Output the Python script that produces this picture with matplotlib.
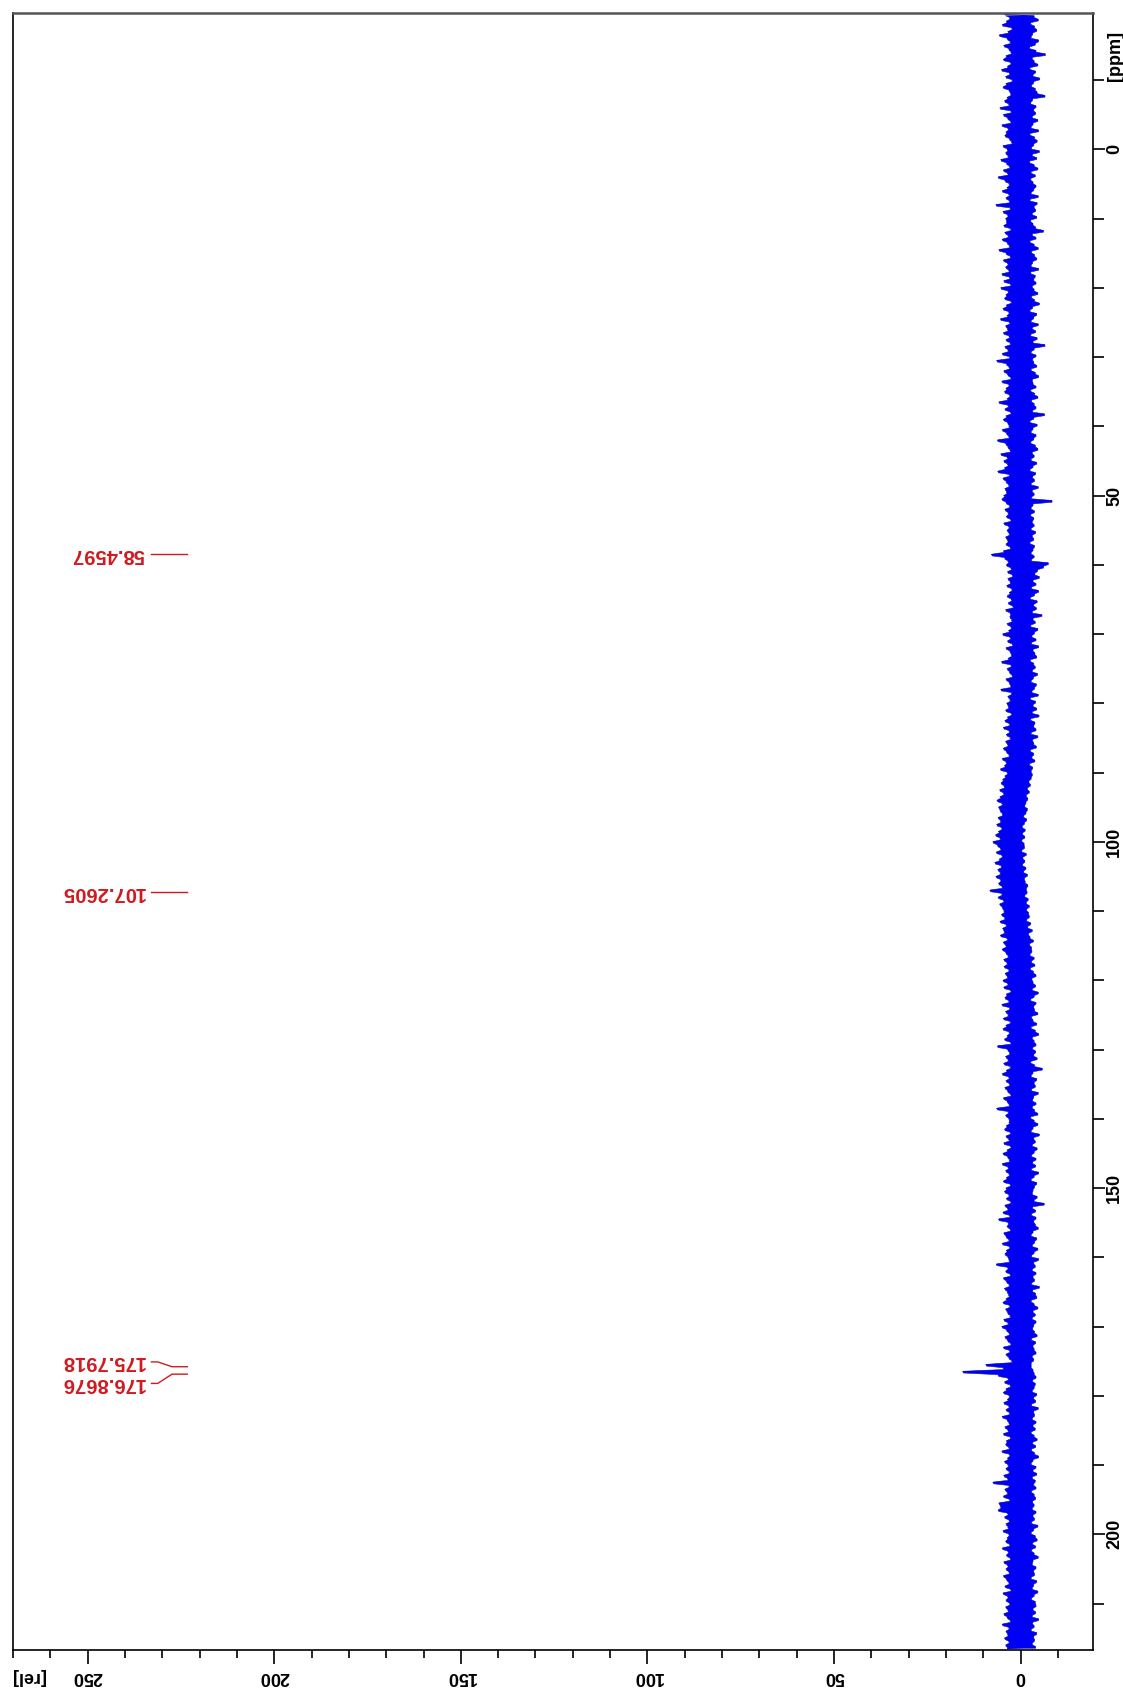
import numpy as np
import matplotlib.pyplot as plt
from matplotlib.ticker import MultipleLocator

# 13C spectrum drawn sideways: ppm runs down the right side, intensity runs leftwards
# one value every 0.25 ppm from ppm_start to ppm_stop, 20 values (5 ppm) per row
ppm_start, ppm_stop = -19.5, 216.5
intensity = [
    4.2, -3.5, 3.0, -4.6, 3.8, -2.6, 4.9, -3.6, 2.4, -4.2, 3.4, -3.1, 5.7, -2.7, 3.6, -4.7, 2.8, -3.8, 4.5, -2.3,
    3.2, -4.0, 2.6, -6.5, 3.9, -3.0, 4.6, -3.5, 2.7, -4.5, 3.5, -2.4, 5.1, -3.9, 3.0, -3.2, 4.0, -5.0, 2.3, -3.4,
    3.9, -2.8, 4.7, -3.8, 3.1, -4.3, 2.7, -6.4, 3.6, -3.1, 4.3, -2.6, 3.2, -4.0, 5.5, -3.4, 2.6, -3.9, 4.6, -3.0,
    3.5, -4.5, 2.7, -3.2, 5.0, -2.7, 3.4, -4.7, 3.9, -2.4, 4.2, -3.6, 3.0, -4.3, 2.4, -3.4, 4.7, -2.8, 3.6, -4.9,
    4.0, -3.0, 3.4, -4.2, 5.3, -2.3, 3.8, -3.5, 3.0, -4.5, 4.6, -2.7, 3.5, -3.8, 6.0, -2.6, 4.2, -3.2, 3.1, -4.0,
    3.6, -3.4, 4.9, -2.7, 3.2, -4.6, 3.9, -2.4, 3.0, -4.3, 6.6, -3.5, 2.8, -3.9, 4.7, -3.0, 3.5, -4.2, 4.0, -2.6,
    3.8, -3.2, 4.5, -3.9, 2.7, -6.0, 4.2, -3.0, 3.4, -4.0, 4.9, -2.4, 3.6, -3.5, 3.0, -4.6, 5.8, -2.8, 3.9, -3.6,
    2.8, -4.2, 4.6, -3.1, 3.5, -2.7, 4.0, -4.7, 3.2, -2.6, 5.0, -3.8, 3.0, -3.4, 4.5, -4.0, 2.7, -3.0, 5.3, -3.5,
    3.4, -4.5, 3.9, -2.8, 4.3, -3.6, 2.6, -4.9, 3.8, -3.1, 4.7, -2.4, 3.2, -4.2, 3.6, -3.4, 5.4, -2.7, 3.0, -4.6,
    4.0, -3.0, 3.5, -3.9, 4.6, -2.6, 3.1, -4.3, 3.9, -3.2, 2.8, -6.4, 4.2, -3.5, 3.4, -2.7, 4.9, -4.0, 3.0, -3.1,
    6.4, -3.4, 3.8, -4.2, 3.1, -2.7, 4.5, -3.8, 3.5, -4.7, 2.7, -3.0, 5.0, -3.2, 3.2, -4.0, 3.9, -2.6, 4.3, -3.6,
    3.0, -4.5, 3.6, -2.8, 5.8, -3.5, 3.4, -4.0, 4.2, -3.1, 2.7, -6.3, 3.9, -3.4, 4.6, -2.4, 3.5, -4.3, 3.1, -3.2,
    4.9, -2.7, 3.8, -4.0, 3.2, -3.4, 6.2, -2.6, 4.0, -3.8, 3.4, -4.5, 2.8, -3.0, 5.3, -3.5, 3.6, -2.7, 4.5, -4.2,
    3.5, -3.2, 4.3, -2.4, 6.1, -3.9, 3.1, -3.1, 4.7, -3.6, 3.9, -2.7, 3.2, -4.6, 4.2, -3.0, 3.8, -3.5, 4.5, -2.8,
    5.0, -8.3, 3.9, -3.2, 3.0, -2.7, 4.2, -3.6, 3.4, -2.6, 3.8, -3.4, 2.7, -3.0, 4.5, -3.5, 3.2, -2.7, 3.6, -3.9,
    3.1, -3.0, 4.0, -3.4, 3.5, -2.4, 3.9, -3.6, 2.8, -3.2, 4.6, -2.7, 7.8, -3.5, 4.3, -2.8, 3.4, -7.3, 3.8, -6.0,
    2.6, -4.4, 3.5, -3.7, 2.2, -4.9, 3.4, -3.2, 2.8, -4.0, 3.7, -2.8, 2.4, -4.7, 3.0, -3.6, 3.6, -2.5, 2.5, -4.3,
    3.3, -3.4, 2.1, -4.1, 4.0, -3.0, 2.8, -5.6, 2.9, -3.2, 2.4, -3.8, 3.6, -2.6, 2.6, -4.5, 3.2, -3.6, 4.8, -2.9,
    2.8, -4.0, 3.5, -2.8, 2.2, -4.7, 3.9, -3.2, 2.9, -3.7, 2.5, -4.2, 3.3, -2.5, 5.1, -3.4, 2.6, -3.8, 3.6, -3.0,
    3.0, -4.4, 2.3, -3.3, 3.9, -2.7, 3.1, -4.1, 2.7, -3.6, 5.3, -2.9, 2.5, -4.6, 3.4, -2.5, 2.9, -3.9, 3.7, -3.2,
    3.3, -4.2, 4.0, -3.0, 2.5, -4.8, 3.5, -2.6, 4.2, -3.7, 3.0, -3.4, 4.6, -4.0, 3.1, -2.7, 3.8, -4.5, 2.8, -3.1,
    4.0, -3.4, 3.5, -4.1, 4.6, -2.5, 3.8, -3.4, 3.1, -2.9, 4.9, -3.7, 3.9, -2.3, 4.3, -3.1, 5.4, -2.7, 3.6, -3.0,
    4.2, -2.7, 4.8, -2.1, 5.2, -2.5, 4.4, -1.7, 5.6, -2.2, 4.6, -1.4, 5.5, -1.8, 6.3, -1.3, 5.0, -1.0, 5.9, -1.7,
    5.5, -1.3, 4.9, -0.7, 6.0, -1.5, 5.4, -0.9, 6.4, -0.3, 5.1, -1.1, 5.9, -0.4, 6.7, -1.0, 5.5, -0.2, 7.4, -0.8,
    6.2, -0.9, 5.4, -0.2, 6.5, -1.4, 5.0, -0.5, 5.7, -1.0, 6.9, -0.4, 5.2, -1.3, 6.1, -0.7, 5.5, -1.7, 6.6, -0.9,
    5.4, -1.1, 5.9, -1.8, 5.0, -1.4, 8.2, -1.6, 5.1, -1.0, 6.0, -1.9, 4.6, -1.4, 5.6, -2.2, 4.9, -1.5, 4.5, -2.0,
    5.1, -2.2, 4.3, -1.5, 5.5, -2.6, 3.9, -1.8, 4.8, -3.0, 4.4, -2.0, 5.4, -2.4, 3.6, -3.3, 4.6, -2.3, 4.0, -2.8,
    4.9, -2.9, 4.0, -2.4, 3.4, -3.5, 4.5, -2.8, 3.7, -3.7, 4.4, -2.5, 3.2, -3.3, 4.1, -4.0, 3.6, -2.9, 4.7, -3.2,
    3.5, -3.9, 4.5, -3.0, 2.7, -4.6, 3.8, -3.5, 4.2, -2.6, 3.2, -4.0, 5.0, -3.4, 3.0, -3.6, 4.0, -4.5, 3.4, -2.8,
    4.6, -3.2, 2.8, -4.2, 3.9, -2.7, 4.7, -3.8, 3.1, -4.7, 3.6, -3.0, 4.3, -3.5, 2.7, -4.0, 6.2, -3.1, 3.5, -3.9,
    3.0, -3.4, 4.0, -4.3, 3.4, -2.6, 4.5, -3.6, 2.8, -5.7, 3.8, -3.2, 4.9, -2.7, 3.2, -4.2, 3.9, -3.5, 3.0, -3.8,
    4.2, -2.8, 3.5, -4.6, 2.7, -3.4, 4.6, -3.1, 3.6, -4.0, 3.1, -3.0, 6.4, -3.6, 3.4, -4.5, 4.0, -2.6, 3.2, -3.5,
    3.1, -4.5, 3.8, -3.2, 4.3, -2.7, 2.8, -4.9, 3.9, -3.4, 3.2, -3.8, 4.5, -3.0, 2.7, -4.3, 3.6, -3.5, 4.7, -2.8,
    3.5, -4.0, 3.0, -3.1, 4.9, -3.9, 3.4, -2.8, 4.0, -4.7, 3.1, -3.5, 3.8, -2.7, 4.6, -4.2, 2.8, -3.6, 3.9, -3.2,
    4.3, -3.0, 3.2, -4.3, 3.8, -3.5, 2.7, -6.2, 4.2, -3.1, 3.5, -3.9, 4.7, -2.8, 3.0, -4.0, 5.9, -3.4, 3.4, -3.8,
    3.6, -4.6, 2.8, -3.2, 4.5, -2.7, 3.9, -4.2, 3.2, -3.6, 4.9, -3.0, 3.0, -4.5, 3.8, -3.5, 4.2, -2.8, 3.4, -4.7,
    3.1, -3.4, 6.5, -3.8, 3.5, -3.0, 4.0, -4.0, 2.8, -3.2, 4.6, -3.6, 3.8, -2.8, 3.1, -4.9, 4.3, -3.1, 3.6, -3.9,
    3.2, -4.2, 3.9, -2.7, 4.7, -3.5, 3.0, -4.5, 4.0, -3.2, 3.5, -3.8, 2.8, -3.0, 4.5, -4.0, 3.4, -3.4, 5.0, -3.1,
    3.8, -3.6, 3.1, -4.3, 4.2, -2.8, 3.5, -3.9, 2.7, -3.2, 4.6, -3.5, 3.0, -4.0, 3.9, -3.0, 3.2, -3.4, 2.4, -2.7,
    9.3, -2.7, 4.7, -3.2, 15.5, -3.5, 6.0, -4.0, 3.4, -3.1, 4.3, -3.8, 2.8, -3.5, 3.9, -3.0, 4.6, -4.2, 3.1, -3.4,
    3.5, -3.9, 4.5, -2.8, 3.2, -4.6, 3.9, -3.4, 3.0, -3.6, 4.9, -3.0, 3.6, -4.0, 3.1, -3.2, 4.2, -3.8, 3.4, -2.7,
    4.6, -3.5, 2.8, -4.3, 3.8, -3.1, 4.0, -3.9, 3.2, -2.8, 5.0, -3.6, 3.0, -4.7, 3.5, -3.2, 4.3, -2.7, 3.4, -4.0,
    3.9, -3.2, 3.1, -4.2, 4.5, -3.0, 3.5, -3.8, 7.4, -3.4, 3.2, -4.0, 4.2, -2.8, 3.6, -3.5, 4.6, -3.9, 3.0, -3.1,
    5.8, -3.5, 5.4, -3.0, 6.0, -4.0, 3.5, -3.2, 4.3, -3.6, 3.1, -2.8, 3.9, -4.5, 3.4, -3.4, 4.7, -2.7, 3.2, -3.8,
    3.6, -4.3, 4.0, -3.1, 3.0, -3.9, 4.9, -2.8, 3.4, -3.5, 3.8, -4.6, 2.8, -3.2, 4.5, -3.0, 3.5, -4.0, 3.9, -3.4,
    3.1, -3.6, 4.6, -2.7, 3.8, -4.2, 3.2, -3.4, 4.2, -3.0, 2.7, -4.5, 4.7, -3.5, 3.5, -2.8, 3.9, -3.8, 3.0, -4.0,
    4.0, -3.2, 3.4, -3.9, 4.5, -3.0, 3.6, -4.7, 2.8, -3.1, 4.9, -3.5, 3.2, -2.7, 3.9, -4.2, 3.5, -3.4, 4.3, -3.6,
    3.2, -3.0, 4.0, -3.9, 3.5,
]

peaks = [58.4597, 107.2605, 175.7918, 176.8676]
label_ppm = [58.4597, 107.2605, 175.1, 178.2]

ppm_ticks = [0, 50, 100, 150, 200]
rel_ticks = [0, 50, 100, 150, 200, 250]

red = '#d2191e'
blue = '#0000f5'
font = 'Liberation Sans'

v = np.array(intensity)
ppm = np.linspace(ppm_start, ppm_stop, len(v))

fig = plt.figure(figsize=(11.23, 16.96), dpi=100)
ax = fig.add_axes([13 / 1123, 1 - 1650 / 1696, 1080 / 1123, 1637 / 1696])

# dense trace: fill between neighbouring points so the noise band reads solid
mid = (ppm[:-1] + ppm[1:]) / 2
ax.fill_betweenx(mid, np.minimum(v[:-1], v[1:]), np.maximum(v[:-1], v[1:]),
                 color=blue, edgecolor='#1a1a90', linewidth=0.4)
ax.plot(v, ppm, color=blue, lw=0.7)

# peak labels (upside down like the original print)
for p, lp in zip(peaks, label_ppm):
    ax.plot([232.9, 231.2, 227.4, 223.3], [lp, lp, p, p], color=red, lw=1.0)
    ax.text(234.8, lp, f'{p:.4f}', rotation=180, ha='right', va='center',
            color=red, fontsize=14.5, fontweight='bold', family=font)

ax.set_xlim(270, -19.4)
ax.set_ylim(216.7, -19.7)

ax.yaxis.tick_right()
ax.set_yticks(ppm_ticks)
ax.yaxis.set_minor_locator(MultipleLocator(10))
ax.set_xticks(rel_ticks)
ax.xaxis.set_minor_locator(MultipleLocator(10))
ax.tick_params(axis='x', which='major', length=10, width=1.2, pad=3, labelsize=13)
ax.tick_params(axis='x', which='minor', length=5.5, width=1.2)
ax.tick_params(axis='y', which='major', length=8.5, width=1.2, pad=7, labelsize=13)
ax.tick_params(axis='y', which='minor', length=8, width=1.2)
for lab in ax.get_xticklabels():
    lab.set_rotation(180)
    lab.set_fontweight('bold')
    lab.set_family(font)
for lab in ax.get_yticklabels():
    lab.set_rotation(90)
    lab.set_ha('center')
    lab.set_va('center')
    lab.set_fontweight('bold')
    lab.set_family(font)

ax.annotate('[rel]', xy=(266, 0), xycoords=('data', 'axes fraction'),
            xytext=(0, -13), textcoords='offset points', rotation=180,
            ha='center', va='top', fontsize=13, fontweight='bold', family=font)
ax.annotate('[ppm]', xy=(1, -13.5), xycoords=('axes fraction', 'data'),
            xytext=(16, 0), textcoords='offset points', rotation=90,
            ha='center', va='center', fontsize=13, fontweight='bold', family=font)

for s in ax.spines.values():
    s.set_linewidth(1.2)
ax.spines['top'].set_color('#555555')
ax.spines['top'].set_linewidth(1.8)

fig.savefig('out.png', dpi=100)
